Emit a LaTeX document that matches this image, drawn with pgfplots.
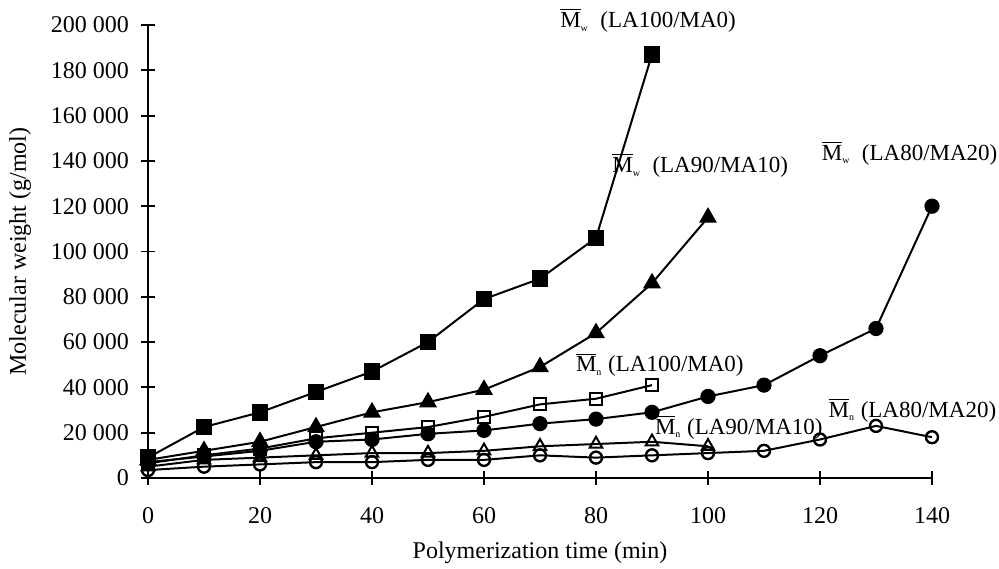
\documentclass[border=0pt]{standalone}
\usepackage{fontspec}
\setmainfont{Liberation Serif}
\usepackage{pgfplots}
\pgfplotsset{compat=1.18}
\newcommand\Mb[1]{$\overline{\hbox{M}}_{\hbox{\tiny #1}}$}
\tikzset{annot/.style={font=\fontsize{11.5bp}{14bp}\selectfont, inner sep=1bp}}
\begin{document}
\begin{tikzpicture}
\useasboundingbox (0,0) rectangle (499.5bp,284.5bp);
\begin{axis}[
  at={(74bp,45.5bp)}, anchor=south west,
  scale only axis, width=392bp, height=226.5bp,
  xmin=0, xmax=140, ymin=0, ymax=200000,
  axis lines=left, axis line style={-, line width=1pt},
  tick style={line width=1pt, black}, tick align=center, major tick length=7bp,
  scaled y ticks=false, scaled x ticks=false,
  xtick={0,20,40,60,80,100,120,140},
  xticklabels={0,20,40,60,80,100,120,140},
  ytick={0,20000,40000,60000,80000,100000,120000,140000,160000,180000,200000},
  yticklabels={0,20 000,40 000,60 000,80 000,100 000,120 000,140 000,160 000,180 000,200 000},
  tick label style={font=\fontsize{12bp}{14bp}\selectfont},
  xticklabel style={yshift=-7.5bp},
  yticklabel style={xshift=-2.5bp},
  label style={font=\fontsize{12bp}{14bp}\selectfont},
  xlabel={Polymerization time (min)},
  ylabel={Molecular weight (g/mol)},
  xlabel style={at={(axis description cs:0.5,-0.165)}, anchor=center},
  ylabel style={at={(axis description cs:-0.163,0.5)}, anchor=center},
  clip=false,
  every axis plot/.append style={black, line width=1pt},
]
% Mw LA100/MA0
\addplot[mark=square*, mark size=3.6bp] coordinates {(0,9000)(10,22500)(20,29000)(30,38000)(40,47000)(50,60000)(60,79000)(70,88000)(80,106000)(90,187000)};
% Mw LA90/MA10
\addplot[mark=triangle*, mark size=4.2bp] coordinates {(0,8000)(10,12000)(20,16000)(30,22500)(40,29000)(50,33500)(60,39000)(70,49000)(80,64000)(90,86000)(100,115000)};
% Mn LA100/MA0
\addplot[mark=square, mark size=3bp, mark options={solid, line width=1pt}] coordinates {(0,6500)(10,10000)(20,13000)(30,17500)(40,20000)(50,22500)(60,27000)(70,32500)(80,35000)(90,41000)};
% Mw LA80/MA20
\addplot[mark=*, mark size=3.3bp] coordinates {(0,7000)(10,9500)(20,12000)(30,16000)(40,17000)(50,19500)(60,21000)(70,24000)(80,26000)(90,29000)(100,36000)(110,41000)(120,54000)(130,66000)(140,120000)};
% Mn LA90/MA10
\addplot[mark=triangle, mark size=3.6bp, mark options={line width=1pt}] coordinates {(0,5000)(10,8000)(20,9000)(30,10000)(40,11000)(50,11000)(60,12000)(70,14000)(80,15000)(90,16000)(100,14000)};
% Mn LA80/MA20
\addplot[mark=o, mark size=3bp, mark options={line width=1.2pt}] coordinates {(0,3500)(10,5000)(20,6000)(30,7000)(40,7000)(50,8000)(60,8000)(70,10000)(80,9000)(90,10000)(100,11000)(110,12000)(120,17000)(130,23000)(140,18000)};
\node[annot] at (axis cs:89.3,202000) {\Mb{w}\ \ (LA100/MA0)};
\node[annot] at (axis cs:98.6,138000) {\Mb{w}\ \ (LA90/MA10)};
\node[annot] at (axis cs:136,143500) {\Mb{w}\ \ (LA80/MA20)};
\node[annot] at (axis cs:91.4,50000) {\Mb{n} (LA100/MA0)};
\node[annot] at (axis cs:105.5,22500) {\Mb{n} (LA90/MA10)};
\node[annot] at (axis cs:136.5,30000) {\Mb{n} (LA80/MA20)};
\end{axis}
\end{tikzpicture}
\end{document}
